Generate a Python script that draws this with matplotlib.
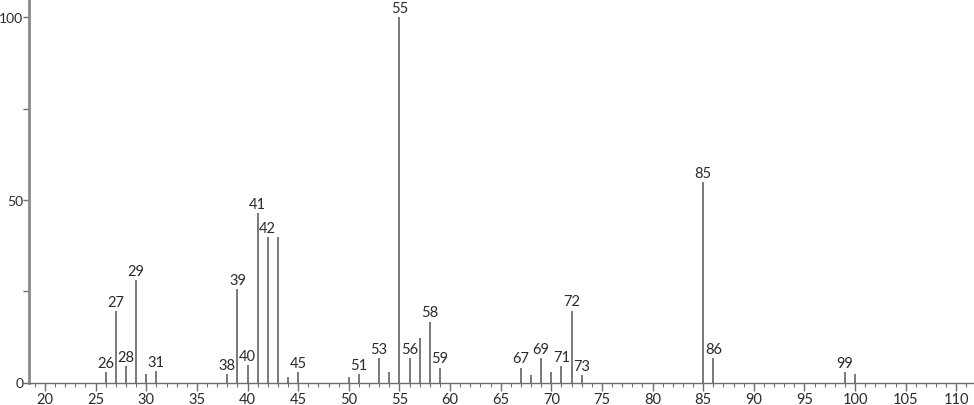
import matplotlib
matplotlib.use("Agg")
import matplotlib.pyplot as plt
from matplotlib.ticker import MultipleLocator

# m/z and relative intensity
mz = [26, 27, 28, 29, 30, 31, 38, 39, 40, 41, 42, 43, 44, 45,
      50, 51, 53, 54, 55, 56, 57, 58, 59,
      67, 68, 69, 70, 71, 72, 73, 85, 86, 99, 100]
intensity = [2.9, 19.6, 4.5, 28.0, 2.3, 3.1, 2.3, 25.6, 4.8, 46.4, 39.8, 39.8, 1.5, 2.9,
             1.4, 2.3, 6.6, 2.8, 100.0, 6.8, 12.3, 16.7, 4.1,
             4.1, 2.0, 6.6, 2.8, 4.4, 19.7, 2.0, 54.9, 6.7, 2.9, 2.3]
labelled = [26, 27, 28, 29, 31, 38, 39, 40, 41, 42, 45, 51, 53, 55, 56,
            58, 59, 67, 69, 71, 72, 73, 85, 86, 99]

y_ticks = [0, 25, 50, 75, 100]
y_ticklabels = ["0", "", "50", "", "100"]

plt.rcParams["font.family"] = ["Lato", "DejaVu Sans"]

fig = plt.figure(figsize=(9.74, 4.06), dpi=100)
ax = fig.add_axes([29 / 974, 22.5 / 406, 945 / 974, 383.5 / 406])

ax.vlines(mz, 0, intensity, colors="#6e6e6e", linewidth=1.3)

for m, h in zip(mz, intensity):
    if m in labelled:
        ax.annotate(str(m), (m, h), xytext=(0, 1.5), textcoords="offset points",
                    ha="center", va="bottom", fontsize=10.5, color="#2a2a2a")

ax.set_xlim(18.42, 111.75)
ax.set_ylim(0, 105)

ax.xaxis.set_major_locator(MultipleLocator(5))
ax.xaxis.set_minor_locator(MultipleLocator(1))
ax.set_yticks(y_ticks)
ax.set_yticklabels(y_ticklabels)

for side in ("top", "right"):
    ax.spines[side].set_visible(False)
ax.spines["left"].set_color("#8a8a8a")
ax.spines["left"].set_linewidth(2)
ax.spines["bottom"].set_color("#6e6e6e")
ax.spines["bottom"].set_linewidth(1)

ax.tick_params(axis="x", which="major", length=6, width=1, color="#6e6e6e",
               labelsize=10.5, labelcolor="#2a2a2a", pad=1)
ax.tick_params(axis="x", which="minor", length=3, width=0.8, color="#6e6e6e")
ax.tick_params(axis="y", which="major", length=4, width=1, color="#6e6e6e",
               labelsize=10, labelcolor="#2a2a2a", pad=0)

fig.savefig("out.png", dpi=100)
